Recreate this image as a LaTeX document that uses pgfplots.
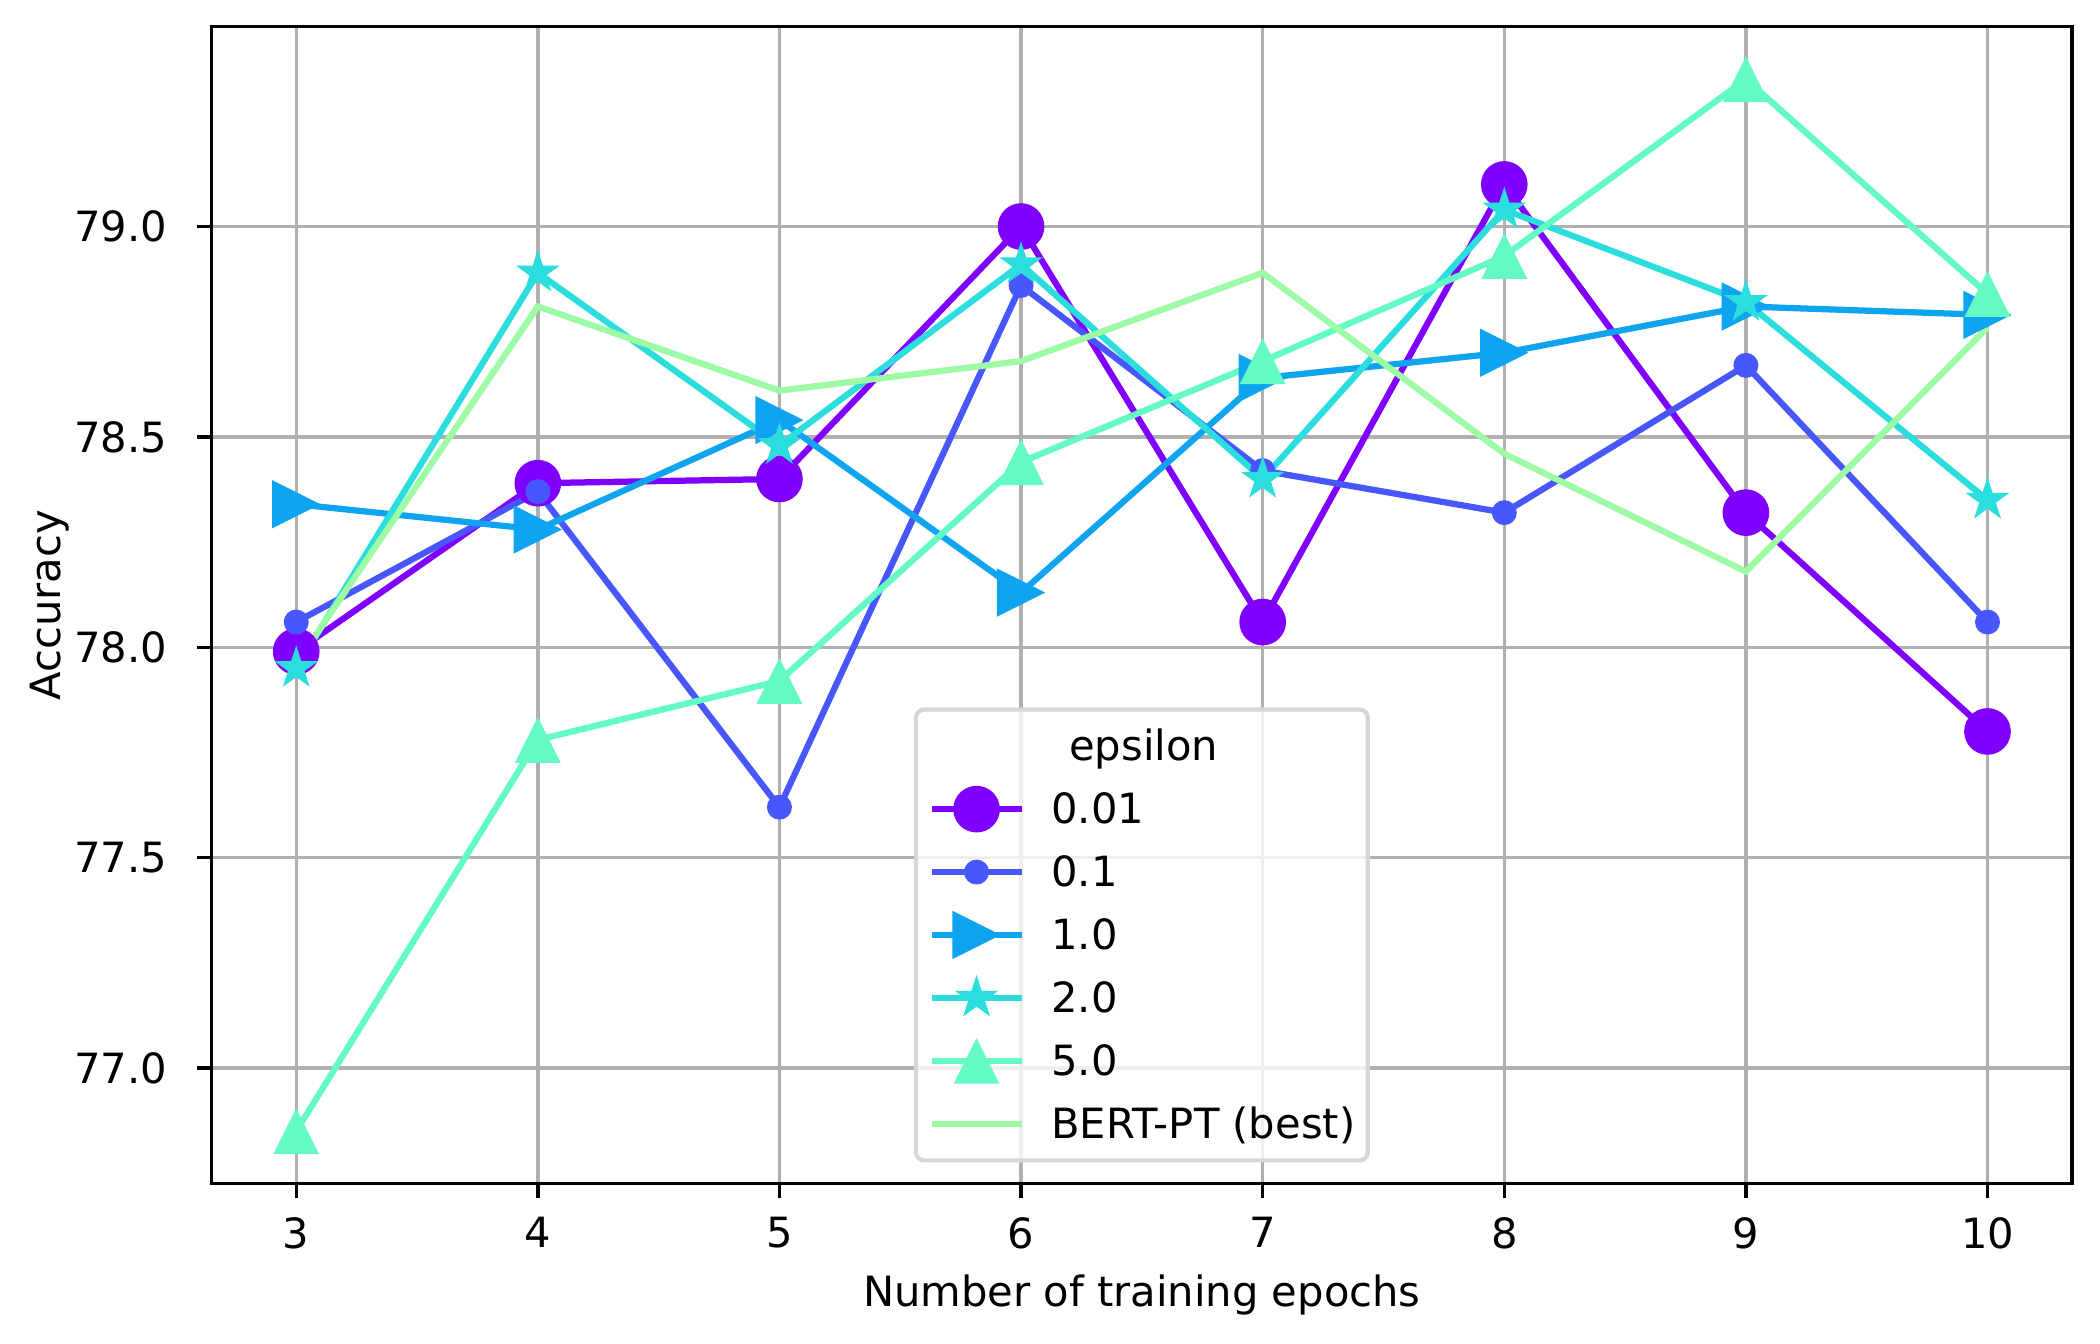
\documentclass[border=0pt]{standalone}
\usepackage{pgfplots}
\pgfplotsset{compat=1.18}
\usepackage{fontspec}
\setmainfont{DejaVu Sans}
\definecolor{c0}{HTML}{8000FF}
\definecolor{c1}{HTML}{4757FB}
\definecolor{c2}{HTML}{0EA4F0}
\definecolor{c3}{HTML}{2BDDDD}
\definecolor{c4}{HTML}{63FBC3}
\definecolor{c5}{HTML}{9CFBA4}
\definecolor{gridc}{HTML}{B0B0B0}
\definecolor{legframe}{HTML}{D6D6D6}
\pgfdeclareplotmark{mplcircle}{%
  \pgfpathcircle{\pgfpointorigin}{\pgfplotmarksize}\pgfusepathqfill}
\pgfdeclareplotmark{mpltriright}{%
  \pgfpathmoveto{\pgfqpoint{\pgfplotmarksize}{0pt}}%
  \pgfpathlineto{\pgfqpoint{-\pgfplotmarksize}{-\pgfplotmarksize}}%
  \pgfpathlineto{\pgfqpoint{-\pgfplotmarksize}{\pgfplotmarksize}}%
  \pgfpathclose\pgfusepathqfill}
\pgfdeclareplotmark{mpltriup}{%
  \pgfpathmoveto{\pgfqpoint{0pt}{\pgfplotmarksize}}%
  \pgfpathlineto{\pgfqpoint{-\pgfplotmarksize}{-\pgfplotmarksize}}%
  \pgfpathlineto{\pgfqpoint{\pgfplotmarksize}{-\pgfplotmarksize}}%
  \pgfpathclose\pgfusepathqfill}
\pgfdeclareplotmark{mplstar}{%
  \pgfpathmoveto{\pgfpointpolar{90}{\pgfplotmarksize}}%
  \pgfpathlineto{\pgfpointpolar{126}{0.381966\pgfplotmarksize}}%
  \pgfpathlineto{\pgfpointpolar{162}{\pgfplotmarksize}}%
  \pgfpathlineto{\pgfpointpolar{198}{0.381966\pgfplotmarksize}}%
  \pgfpathlineto{\pgfpointpolar{234}{\pgfplotmarksize}}%
  \pgfpathlineto{\pgfpointpolar{270}{0.381966\pgfplotmarksize}}%
  \pgfpathlineto{\pgfpointpolar{306}{\pgfplotmarksize}}%
  \pgfpathlineto{\pgfpointpolar{342}{0.381966\pgfplotmarksize}}%
  \pgfpathlineto{\pgfpointpolar{18}{\pgfplotmarksize}}%
  \pgfpathlineto{\pgfpointpolar{54}{0.381966\pgfplotmarksize}}%
  \pgfpathclose\pgfusepathqfill}
\begin{document}
\begin{tikzpicture}
\useasboundingbox (-50.8pt,-38.4pt) rectangle (453.2pt,284.1pt);
\begin{axis}[
  scale only axis,
  width=446.5pt, height=277.7pt,
  xmin=2.65, xmax=10.35, ymin=76.725, ymax=79.475,
  xtick={3,4,5,6,7,8,9,10},
  ytick={77,77.5,78,78.5,79},
  /pgf/number format/assume math mode=true,
  yticklabel style={/pgf/number format/fixed,/pgf/number format/fixed zerofill,/pgf/number format/precision=1, inner sep=0pt, xshift=-7pt},
  xticklabel style={inner sep=0pt, yshift=-4.3pt},
  xtick pos=bottom, ytick pos=left,
  tick align=outside,
  major tick length=3.5pt,
  tick style={black, line width=0.8pt},
  axis line style={black, line width=0.8pt},
  grid=major,
  major grid style={gridc, line width=0.8pt},
  xlabel={Number of training epochs},
  ylabel={Accuracy},
  xlabel style={at={(axis description cs:0.5,-0.096)}, anchor=center, inner sep=0pt},
  ylabel style={at={(axis description cs:-0.0871,0.5)}, anchor=center, inner sep=0pt},
  every axis plot/.append style={line width=1.5pt},
  legend image code/.code={\draw[mark repeat=2, mark phase=2] plot coordinates {(0pt,0pt) (10.8pt,0pt) (21.6pt,0pt)};},
  legend cell align=left,
  legend style={at={(axis description cs:0.5,0.0184)}, anchor=south,
    draw=legframe, line width=1pt, rounded corners=2pt, fill=white, fill opacity=0.8, text opacity=1, draw opacity=1,
    inner xsep=3pt, inner ysep=3pt, column sep=6.4pt, row sep=3.5pt,
    nodes={inner sep=0pt, text height=9.3pt, text depth=2.3pt}},
  legend image post style={fill opacity=1, draw opacity=1},
]
\addlegendimage{empty legend}
\addlegendentry{\hspace*{4.3pt}epsilon}
\addplot[c0, mark=mplcircle, mark size=5.6pt, mark options={fill=c0}] coordinates {
(3,77.99) (4,78.39) (5,78.40) (6,79.00) (7,78.06) (8,79.10) (9,78.32) (10,77.80)};
\addlegendentry{0.01}
\addplot[c1, mark=mplcircle, mark size=3pt, mark options={fill=c1}] coordinates {
(3,78.06) (4,78.37) (5,77.62) (6,78.86) (7,78.42) (8,78.32) (9,78.67) (10,78.06)};
\addlegendentry{0.1}
\addplot[c2, mark=mpltriright, mark size=5.8pt, mark options={fill=c2}] coordinates {
(3,78.34) (4,78.28) (5,78.54) (6,78.13) (7,78.64) (8,78.70) (9,78.81) (10,78.79)};
\addlegendentry{1.0}
\addplot[c3, mark=mplstar, mark size=5.5pt, mark options={fill=c3}] coordinates {
(3,77.95) (4,78.89) (5,78.48) (6,78.91) (7,78.40) (8,79.04) (9,78.82) (10,78.35)};
\addlegendentry{2.0}
\addplot[c4, mark=mpltriup, mark size=5.5pt, mark options={fill=c4}] coordinates {
(3,76.85) (4,77.78) (5,77.92) (6,78.44) (7,78.68) (8,78.93) (9,79.35) (10,78.84)};
\addlegendentry{5.0}
\addplot[c5, no marks] coordinates {
(3,77.96) (4,78.81) (5,78.61) (6,78.68) (7,78.89) (8,78.46) (9,78.18) (10,78.76)};
\addlegendentry{BERT-PT (best)}
\end{axis}
\end{tikzpicture}
\end{document}
